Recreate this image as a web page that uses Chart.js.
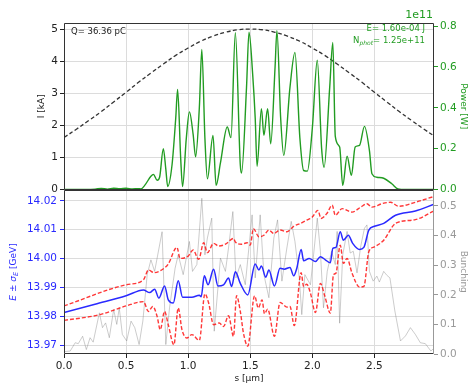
<!DOCTYPE html>
<html>
<head>
<meta charset="utf-8">
<script src="https://cdn.jsdelivr.net/npm/chart.js@4/dist/chart.umd.min.js"></script>
<style>
  body { margin: 0; background: #fff; }
  #wrap { position: relative; width: 469px; height: 386px; }
  #wrap canvas { position: absolute; left: 0; top: 0; }
</style>
</head>
<body>
<div id="wrap">
  <canvas id="lower" width="469" height="386"></canvas>
  <canvas id="upper" width="469" height="386"></canvas>
</div>
<script>
// current profile I(s) in kA
var sCurrent = [0, 0.1, 0.2, 0.3, 0.4, 0.5, 0.6, 0.7, 0.8, 0.9, 1.0, 1.1, 1.2, 1.3, 1.4, 1.5,
    1.6, 1.7, 1.8, 1.9, 2.0, 2.1, 2.2, 2.3, 2.4, 2.5, 2.6, 2.7, 2.8, 2.9, 2.98];
var current = [1.62, 1.88, 2.15, 2.43, 2.73, 3.03, 3.34, 3.63, 3.91, 4.18, 4.41, 4.62, 4.78, 4.90, 4.98, 5.00,
    4.98, 4.90, 4.78, 4.62, 4.41, 4.18, 3.91, 3.63, 3.34, 3.03, 2.73, 2.43, 2.15, 1.88, 1.67];

// radiated power, in units of 1e11 W
var sPower = [0, 0.25, 0.30, 0.35, 0.40, 0.45, 0.50, 0.55, 0.60, 0.62,
    0.65, 0.70, 0.72, 0.75, 0.77, 0.80, 0.82, 0.835, 0.87, 0.90,
    0.915, 0.94, 0.955, 0.985, 1.01, 1.04, 1.06, 1.09, 1.11, 1.135,
    1.155, 1.20, 1.225, 1.26, 1.315, 1.345, 1.38, 1.42, 1.43, 1.47,
    1.49, 1.52, 1.54, 1.555, 1.59, 1.61, 1.64, 1.665, 1.70, 1.715,
    1.745, 1.77, 1.82, 1.86, 1.90, 1.93, 1.96, 2.00, 2.04, 2.075,
    2.095, 2.14, 2.165, 2.185, 2.22, 2.245, 2.28, 2.315, 2.345, 2.38,
    2.42, 2.46, 2.48, 2.52, 2.575, 2.64, 2.69, 2.75, 2.98];
var power = [0, 0.002, 0.005, 0.002, 0.006, 0.004, 0.006, 0.003, 0.004, 0.003,
    0.02, 0.065, 0.074, 0.045, 0.06, 0.2, 0.10, 0.015, 0.12, 0.35,
    0.49, 0.15, 0.015, 0.25, 0.38, 0.27, 0.16, 0.40, 0.686, 0.25,
    0.052, 0.265, 0.02, 0.13, 0.306, 0.254, 0.767, 0.12, 0.08, 0.5,
    0.77, 0.56, 0.35, 0.114, 0.396, 0.265, 0.396, 0.224, 0.6, 0.777,
    0.35, 0.167, 0.5, 0.671, 0.25, 0.093, 0.09, 0.3, 0.633, 0.2,
    0.109, 0.5, 0.72, 0.26, 0.208, 0.02, 0.163, 0.069, 0.208, 0.216,
    0.309, 0.19, 0.077, 0.06, 0.055, 0.028, 0.003, 0, 0];

// mean energy in GeV
var sEnergy = [0, 0.25, 0.5, 0.64, 0.69, 0.73, 0.764, 0.81, 0.84, 0.88, 0.92,
    0.955, 1.03, 1.09, 1.105, 1.13, 1.16, 1.205, 1.24, 1.285, 1.325,
    1.35, 1.38, 1.42, 1.48, 1.54, 1.57, 1.59, 1.625, 1.65, 1.695,
    1.74, 1.775, 1.82, 1.85, 1.875, 1.91, 1.93, 1.975, 2.025, 2.065,
    2.105, 2.145, 2.165, 2.19, 2.225, 2.25, 2.29, 2.325, 2.38, 2.415,
    2.455, 2.5, 2.575, 2.67, 2.83, 2.98];
var energy = [13.9814, 13.9843, 13.9872, 13.9892, 13.9883, 13.9895, 13.9864, 13.9906, 13.9858, 13.9847, 13.9924,
    13.9867, 13.9867, 13.9874, 13.9869, 13.9941, 13.9910, 13.9964, 13.9906, 13.9910, 13.9933,
    13.9904, 13.9955, 13.9915, 13.9875, 13.9982, 13.9961, 13.9975, 13.9936, 13.9961, 13.9906,
    13.9967, 13.9964, 13.9970, 13.9941, 13.9967, 14.0032, 13.9993, 14.0001, 13.9990, 14.0007,
    13.9996, 13.9986, 14.0036, 14.0039, 14.0093, 14.0064, 14.0081, 14.0053, 14.0032, 14.0039,
    14.0099, 14.0112, 14.0122, 14.0150, 14.0165, 14.0188];

// E + sigma_E
var sUpper = [0, 0.5, 0.64, 0.68, 0.725, 0.815, 0.84, 0.91, 0.935, 1.0,
    1.04, 1.085, 1.125, 1.155, 1.205, 1.245, 1.30, 1.365, 1.38, 1.43, 1.475,
    1.5, 1.525, 1.57, 1.61, 1.65, 1.69, 1.74, 1.795, 1.85, 1.905,
    1.955, 2.0, 2.045, 2.07, 2.12, 2.16, 2.185, 2.24, 2.32, 2.39,
    2.44, 2.48, 2.56, 2.63, 2.695, 2.83, 2.98];
var upper = [13.9837, 13.9910, 13.9927, 13.9961, 13.9952, 13.9970, 13.9982, 14.0039, 14.0001, 14.0009,
    14.0030, 13.9998, 14.0055, 14.0021, 14.0053, 14.0044, 14.0050, 14.0070, 14.0058, 14.0050, 14.0055,
    14.0047, 14.0104, 14.0076, 14.0081, 14.0099, 14.0087, 14.0099, 14.0093, 14.0112, 14.0122,
    14.0133, 14.0144, 14.0167, 14.0139, 14.0158, 14.0185, 14.0150, 14.0173, 14.0161, 14.0178,
    14.0190, 14.0178, 14.0190, 14.0195, 14.0181, 14.0195, 14.0215];

// E - sigma_E
var sLower = [0, 0.29, 0.5, 0.64, 0.68, 0.715, 0.75, 0.775, 0.81, 0.84,
    0.885, 0.92, 0.95, 0.99, 1.03, 1.09, 1.135, 1.165, 1.205, 1.25,
    1.285, 1.325, 1.365, 1.39, 1.42, 1.445, 1.48, 1.535, 1.565, 1.595,
    1.615, 1.64, 1.695, 1.74, 1.795, 1.82, 1.855, 1.91, 1.93, 1.955,
    1.985, 2.025, 2.065, 2.1, 2.145, 2.17, 2.19, 2.225, 2.25, 2.28,
    2.32, 2.38, 2.415, 2.455, 2.5, 2.575, 2.67, 2.83, 2.98];
var lower = [13.9787, 13.9807, 13.9837, 13.9852, 13.9818, 13.9835, 13.9801, 13.9755, 13.9818, 13.9772,
    13.9703, 13.9830, 13.9755, 13.9726, 13.9738, 13.9718, 13.9879, 13.9847, 13.9772, 13.9778,
    13.9766, 13.9803, 13.9732, 13.9872, 13.9818, 13.9744, 13.9698, 13.9872, 13.9830, 13.9858,
    13.9810, 13.9826, 13.9732, 13.9849, 13.9833, 13.9835, 13.9769, 13.9952, 13.9904, 13.9912,
    13.9881, 13.9814, 13.9915, 13.9872, 13.9812, 13.9944, 13.9950, 14.0047, 13.9984, 14.0001,
    13.9950, 13.9902, 13.9904, 14.0024, 14.0041, 14.0064, 14.0122, 14.0135, 14.0165];

// bunching factor
var sBunch = [0, 0.05, 0.09, 0.115, 0.15, 0.18, 0.21, 0.235, 0.285, 0.31,
    0.335, 0.365, 0.4, 0.425, 0.445, 0.47, 0.505, 0.54, 0.57, 0.605,
    0.635, 0.67, 0.7, 0.73, 0.79, 0.82, 0.85, 0.895, 0.92, 0.96,
    1.01, 1.035, 1.07, 1.11, 1.135, 1.155, 1.19, 1.21, 1.26, 1.3,
    1.325, 1.36, 1.385, 1.42, 1.46, 1.515, 1.54, 1.58, 1.61, 1.65,
    1.69, 1.72, 1.755, 1.795, 1.83, 1.86, 1.895, 1.915, 1.94, 1.985,
    2.01, 2.04, 2.065, 2.09, 2.12, 2.155, 2.185, 2.2, 2.22, 2.245,
    2.28, 2.305, 2.33, 2.36, 2.39, 2.42, 2.44, 2.46, 2.49, 2.52,
    2.54, 2.575, 2.6, 2.625, 2.665, 2.71, 2.75, 2.79, 2.83, 2.87,
    2.91, 2.955, 2.98];
var bunching = [0.008, 0.01, 0.038, 0.035, 0.06, 0.015, 0.055, 0.04, 0.139, 0.089,
    0.105, 0.055, 0.15, 0.1, 0.156, 0.066, 0.044, 0.111, 0.089, 0.032,
    0.111, 0.268, 0.318, 0.279, 0.413, 0.032, 0.156, 0.29, 0.335, 0.268,
    0.38, 0.279, 0.302, 0.526, 0.335, 0.392, 0.459, 0.077, 0.324, 0.279,
    0.358, 0.481, 0.257, 0.302, 0.234, 0.47, 0.257, 0.47, 0.268, 0.19,
    0.392, 0.453, 0.246, 0.358, 0.448, 0.38, 0.257, 0.133, 0.268, 0.234,
    0.335, 0.459, 0.347, 0.156, 0.279, 0.347, 0.302, 0.414, 0.104, 0.335,
    0.414, 0.341, 0.347, 0.274, 0.364, 0.425, 0.436, 0.279, 0.246, 0.263,
    0.243, 0.279, 0.266, 0.257, 0.145, 0.044, 0.061, 0.089, 0.066, 0.038,
    0.035, 0.01, 0.02];

var FONT = 'DejaVu Sans';
var GREEN = '#229c22';
var BLUE = '#2a2aff';
var GRAY = '#999999';
var INK = '#222222';
var GRID = '#dcdcdc';
var RED = 'rgba(255,20,20,0.85)';

function pairs(xs, ys) {
    return xs.map(function(x, i) { return {x: x, y: ys[i]}; });
}
function fixWidth(w) {
    return function(scale) { scale.width = w; };
}
function fixHeight(h) {
    return function(scale) { scale.height = h; };
}
function fmt(d) {
    return function(v) { return v.toFixed(d); };
}

// text made of runs with different fonts / offsets (for subscripts)
function drawRuns(ctx, runs, x, y, align) {
    var total = 0;
    runs.forEach(function(r) { ctx.font = r.font; total += ctx.measureText(r.text).width; });
    var cx = align === 'right' ? x - total : (align === 'center' ? x - total / 2 : x);
    ctx.textAlign = 'left';
    ctx.textBaseline = 'middle';
    runs.forEach(function(r) {
        ctx.font = r.font;
        ctx.fillText(r.text, cx, y + (r.dy || 0));
        cx += ctx.measureText(r.text).width;
    });
}

// axes box, matplotlib style
var frame = {
    id: 'frame',
    afterDraw: function(chart, args, opts) {
        var a = chart.chartArea, ctx = chart.ctx;
        var l = Math.round(a.left) + 0.5, r = Math.round(a.right) - 0.5;
        var t = Math.round(a.top) + 0.5, b = Math.round(a.bottom) - 0.5;
        ctx.save();
        ctx.lineWidth = 1;
        ctx.strokeStyle = '#333';
        ctx.beginPath();
        ctx.moveTo(r, t); ctx.lineTo(l, t); ctx.lineTo(l, b); ctx.lineTo(r, b);
        ctx.stroke();
        ctx.strokeStyle = opts.right || '#333';
        ctx.beginPath();
        ctx.moveTo(r, t); ctx.lineTo(r, b);
        ctx.stroke();
        ctx.restore();
    }
};

var upperNotes = {
    id: 'upperNotes',
    afterDraw: function(chart) {
        var ctx = chart.ctx;
        var f = '8.5px "' + FONT + '"';
        var fs = 'italic 6px "' + FONT + '"';
        ctx.save();
        ctx.fillStyle = INK;
        drawRuns(ctx, [{text: 'Q= 36.36 pC', font: f}], 71, 31.5, 'left');
        ctx.fillStyle = GREEN;
        drawRuns(ctx, [{text: 'E= 1.60e-04 J', font: f}], 425, 28.5, 'right');
        drawRuns(ctx, [
            {text: 'N', font: f},
            {text: 'phot', font: fs, dy: 2},
            {text: '= 1.25e+11', font: f}
        ], 425, 41, 'right');
        drawRuns(ctx, [{text: '1e11', font: '11px "' + FONT + '"'}], 433, 15, 'right');
        ctx.restore();
    }
};

var lowerNotes = {
    id: 'lowerNotes',
    afterDraw: function(chart) {
        var ctx = chart.ctx;
        var f = '9px "' + FONT + '"';
        var fi = 'italic 9px "' + FONT + '"';
        var fs = 'italic 6.5px "' + FONT + '"';
        ctx.save();
        ctx.fillStyle = BLUE;
        ctx.translate(14, 272);
        ctx.rotate(-Math.PI / 2);
        drawRuns(ctx, [
            {text: 'E', font: fi},
            {text: ' ± ', font: f},
            {text: 'σ', font: fi},
            {text: 'E', font: fs, dy: 2},
            {text: ' [GeV]', font: f}
        ], 0, 0, 'center');
        ctx.restore();
    }
};

Chart.defaults.font.family = FONT;
Chart.defaults.animation = false;
Chart.defaults.plugins.legend.display = false;
Chart.defaults.plugins.tooltip.enabled = false;

var SPLIT = 189.5;

new Chart(document.getElementById('upper'), {
    type: 'line',
    data: {
        datasets: [{
            data: pairs(sPower, power),
            yAxisID: 'yP',
            borderColor: GREEN,
            borderWidth: 1.4,
            pointRadius: 0,
            cubicInterpolationMode: 'monotone'
        }, {
            data: pairs(sCurrent, current),
            yAxisID: 'y',
            borderColor: '#333',
            borderWidth: 1.3,
            borderDash: [4, 2.5],
            pointRadius: 0,
            tension: 0.4
        }]
    },
    plugins: [frame, upperNotes],
    options: {
        responsive: false,
        devicePixelRatio: 1,
        layout: { padding: { left: 0, right: 0, top: 23, bottom: 386 - SPLIT } },
        scales: {
            x: {
                type: 'linear', min: 0, max: 2.98,
                ticks: { display: false, stepSize: 0.5, includeBounds: false },
                grid: { color: GRID, drawTicks: false },
                border: { display: false },
                afterFit: fixHeight(0)
            },
            y: {
                position: 'left', min: 0, max: 5.19,
                ticks: { stepSize: 1, includeBounds: false, color: INK, padding: 2, font: { size: 10.5 } },
                grid: { color: GRID, tickColor: INK, tickLength: 4 },
                border: { display: false },
                title: { display: true, text: 'I [kA]', color: INK, font: { size: 9 }, padding: { top: 36, bottom: 0 } },
                afterFit: fixWidth(64)
            },
            yP: {
                position: 'right', min: 0, max: 0.815,
                ticks: { stepSize: 0.2, includeBounds: false, color: GREEN, padding: 2, font: { size: 10.5 }, callback: fmt(1) },
                grid: { drawOnChartArea: false, tickColor: GREEN, tickLength: 4 },
                border: { display: false },
                title: { display: true, text: 'Power [W]', color: GREEN, font: { size: 9 }, padding: { top: 0, bottom: 0 } },
                afterFit: fixWidth(35)
            }
        }
    }
});

new Chart(document.getElementById('lower'), {
    type: 'line',
    data: {
        datasets: [{
            data: pairs(sEnergy, energy),
            yAxisID: 'yE',
            borderColor: BLUE,
            borderWidth: 1.5,
            pointRadius: 0,
            cubicInterpolationMode: 'monotone'
        }, {
            data: pairs(sUpper, upper),
            yAxisID: 'yE',
            borderColor: RED,
            borderWidth: 1.4,
            borderDash: [4, 2],
            pointRadius: 0,
            cubicInterpolationMode: 'monotone'
        }, {
            data: pairs(sLower, lower),
            yAxisID: 'yE',
            borderColor: RED,
            borderWidth: 1.4,
            borderDash: [4, 2],
            pointRadius: 0,
            cubicInterpolationMode: 'monotone'
        }, {
            data: pairs(sBunch, bunching),
            yAxisID: 'yB',
            borderColor: 'rgba(128,128,128,0.4)',
            borderWidth: 1,
            pointRadius: 0,
            tension: 0
        }]
    },
    plugins: [frame, lowerNotes],
    options: {
        responsive: false,
        devicePixelRatio: 1,
        layout: { padding: { left: 0, right: 0, top: SPLIT, bottom: 0 } },
        plugins: { frame: { right: '#999' } },
        scales: {
            x: {
                type: 'linear', min: 0, max: 2.98,
                ticks: { stepSize: 0.5, includeBounds: false, autoSkip: false, maxRotation: 0, color: INK, padding: 2, font: { size: 10.5 }, callback: fmt(1) },
                grid: { color: GRID, tickColor: INK, tickLength: 4 },
                border: { display: false },
                title: { display: true, text: 's [μm]', color: INK, font: { size: 9 }, padding: { top: 0, bottom: 2 } },
                afterFit: fixHeight(32)
            },
            yE: {
                position: 'left', min: 13.9671, max: 14.0239,
                ticks: { stepSize: 0.01, includeBounds: false, color: BLUE, padding: 3, font: { size: 10.5 }, callback: fmt(2) },
                grid: { color: GRID, tickColor: BLUE, tickLength: 4 },
                border: { display: false },
                afterFit: fixWidth(64)
            },
            yB: {
                position: 'right', min: 0, max: 0.5556,
                ticks: { stepSize: 0.1, includeBounds: false, color: GRAY, padding: 2, font: { size: 10.5 }, callback: fmt(1) },
                grid: { drawOnChartArea: false, tickColor: GRAY, tickLength: 4 },
                border: { display: false },
                title: { display: true, text: 'Bunching', color: GRAY, font: { size: 9 }, padding: { top: 0, bottom: 0 } },
                afterFit: fixWidth(35)
            }
        }
    }
});
</script>
</body>
</html>
